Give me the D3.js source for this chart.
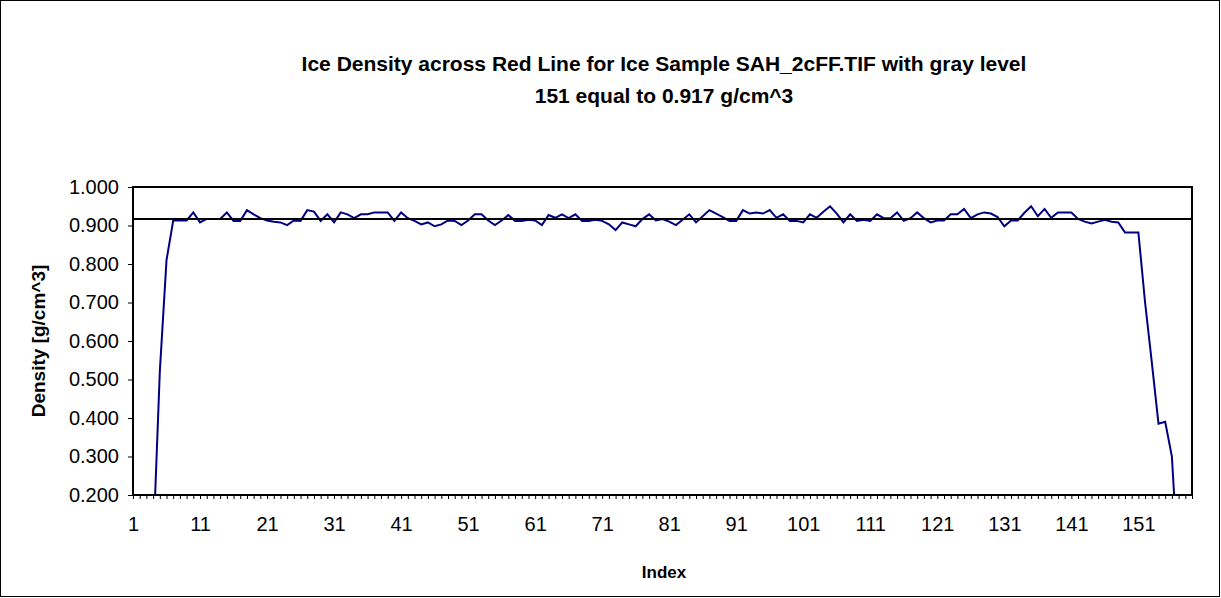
<!DOCTYPE html>
<html>
<head>
<meta charset="utf-8">
<script src="https://cdn.jsdelivr.net/npm/d3@7"></script>
<style>
  html, body { margin: 0; padding: 0; background: #fff; }
  svg { display: block; }
  text { font-family: Arial, "Liberation Sans", sans-serif; fill: #000; }
</style>
</head>
<body>
<svg id="chart" width="1221" height="598"></svg>
<script>
// ---- data ----
const titleLines = ["Ice Density across Red Line for Ice Sample SAH_2cFF.TIF with gray level",
                    "151 equal to 0.917 g/cm^3"];
const xTitle = "Index";
const yTitle = "Density [g/cm^3]";
const referenceValue = 0.917;
const yTicks = [0.2, 0.3, 0.4, 0.5, 0.6, 0.7, 0.8, 0.9, 1.0];
const xLabelTicks = [1, 11, 21, 31, 41, 51, 61, 71, 81, 91, 101, 111, 121, 131, 141, 151];
const density = [
  0, 0, 0, 0.06, 0.52, 0.81, 0.913, 0.913, 0.913, 0.934,
  0.908, 0.917, 0.917, 0.917, 0.934, 0.912, 0.912, 0.940, 0.929, 0.919,
  0.913, 0.910, 0.908, 0.901, 0.913, 0.912, 0.940, 0.936, 0.912, 0.929,
  0.908, 0.934, 0.929, 0.919, 0.929, 0.929, 0.934, 0.934, 0.934, 0.912,
  0.934, 0.919, 0.912, 0.903, 0.908, 0.898, 0.903, 0.913, 0.912, 0.901,
  0.913, 0.929, 0.929, 0.913, 0.901, 0.913, 0.927, 0.912, 0.912, 0.915,
  0.913, 0.901, 0.927, 0.920, 0.929, 0.919, 0.929, 0.912, 0.912, 0.915,
  0.912, 0.903, 0.888, 0.908, 0.903, 0.898, 0.917, 0.929, 0.913, 0.917,
  0.910, 0.901, 0.915, 0.929, 0.908, 0.924, 0.940, 0.931, 0.922, 0.912,
  0.912, 0.940, 0.931, 0.934, 0.931, 0.940, 0.920, 0.929, 0.912, 0.912,
  0.908, 0.929, 0.920, 0.936, 0.950, 0.931, 0.908, 0.929, 0.912, 0.915,
  0.912, 0.929, 0.919, 0.919, 0.934, 0.912, 0.919, 0.934, 0.919, 0.908,
  0.913, 0.913, 0.929, 0.929, 0.943, 0.919, 0.929, 0.934, 0.931, 0.922,
  0.898, 0.913, 0.913, 0.933, 0.950, 0.924, 0.943, 0.920, 0.934, 0.934,
  0.934, 0.917, 0.910, 0.905, 0.910, 0.915, 0.910, 0.908, 0.882, 0.882,
  0.882, 0.700, 0.545, 0.385, 0.390, 0.300, 0, 0, 0
];
const indices = density.map((d, i) => i + 1);

// ---- layout ----
const W = 1221, H = 598;
const plot = { left: 133, top: 187, right: 1192, bottom: 495 };

const svg = d3.select("#chart");

// outer border
svg.append("rect")
  .attr("x", 0.5).attr("y", 0.5).attr("width", W - 2).attr("height", H - 2)
  .attr("fill", "#fff").attr("stroke", "#000").attr("stroke-width", 1);

const x = d3.scaleLinear().domain([1, indices.length]).range([plot.left, plot.right]);
const y = d3.scaleLinear().domain([0.2, 1.0]).range([plot.bottom, plot.top]);

// clip
svg.append("defs").append("clipPath").attr("id", "plotclip")
  .append("rect")
  .attr("x", plot.left).attr("y", plot.top)
  .attr("width", plot.right - plot.left).attr("height", plot.bottom - plot.top);

// title
const title = svg.append("text")
  .attr("x", 664).attr("y", 71)
  .attr("text-anchor", "middle")
  .style("font-size", "21px").style("font-weight", "bold");
titleLines.forEach((t, i) => {
  title.append("tspan").attr("x", 664).attr("dy", i === 0 ? 0 : 32).text(t);
});

// x axis
const labelSet = new Set(xLabelTicks);
const xAxis = d3.axisBottom(x)
  .tickValues(indices)
  .tickSize(4)
  .tickSizeOuter(0)
  .tickPadding(18)
  .tickFormat(d => labelSet.has(d) ? String(d) : "");
const gx = svg.append("g")
  .attr("transform", `translate(0,${plot.bottom})`)
  .call(xAxis);
gx.select(".domain").remove();
gx.selectAll(".tick line").attr("stroke", "#000").attr("stroke-width", 1);
gx.selectAll(".tick text").style("font-size", "20px").style("font-family", "Arial, 'Liberation Sans', sans-serif");

// y axis
const yAxis = d3.axisLeft(y)
  .tickValues(yTicks)
  .tickSize(5)
  .tickSizeOuter(0)
  .tickPadding(9)
  .tickFormat(d3.format(".3f"));
const gy = svg.append("g")
  .attr("transform", `translate(${plot.left},0)`)
  .call(yAxis);
gy.select(".domain").remove();
gy.selectAll(".tick line").attr("stroke", "#000").attr("stroke-width", 1);
gy.selectAll(".tick text").style("font-size", "20px").style("font-family", "Arial, 'Liberation Sans', sans-serif");

// data line
const line = d3.line().x((d, i) => x(indices[i])).y(d => y(d));
svg.append("path")
  .datum(density)
  .attr("clip-path", "url(#plotclip)")
  .attr("fill", "none")
  .attr("stroke", "#000080")
  .attr("stroke-width", 2)
  .attr("stroke-linejoin", "miter")
  .attr("d", line);

// reference line
svg.append("line")
  .attr("x1", plot.left).attr("x2", plot.right)
  .attr("y1", y(referenceValue)).attr("y2", y(referenceValue))
  .attr("stroke", "#000").attr("stroke-width", 2);

// plot border
svg.append("rect")
  .attr("x", plot.left).attr("y", plot.top)
  .attr("width", plot.right - plot.left).attr("height", plot.bottom - plot.top)
  .attr("fill", "none").attr("stroke", "#000").attr("stroke-width", 2);

// axis titles
svg.append("text")
  .attr("x", 664).attr("y", 578)
  .attr("text-anchor", "middle")
  .style("font-size", "17px").style("font-weight", "bold")
  .text(xTitle);

svg.append("text")
  .attr("transform", `translate(45,${(plot.top + plot.bottom) / 2}) rotate(-90)`)
  .attr("text-anchor", "middle")
  .style("font-size", "19px").style("font-weight", "bold")
  .text(yTitle);
</script>
</body>
</html>
